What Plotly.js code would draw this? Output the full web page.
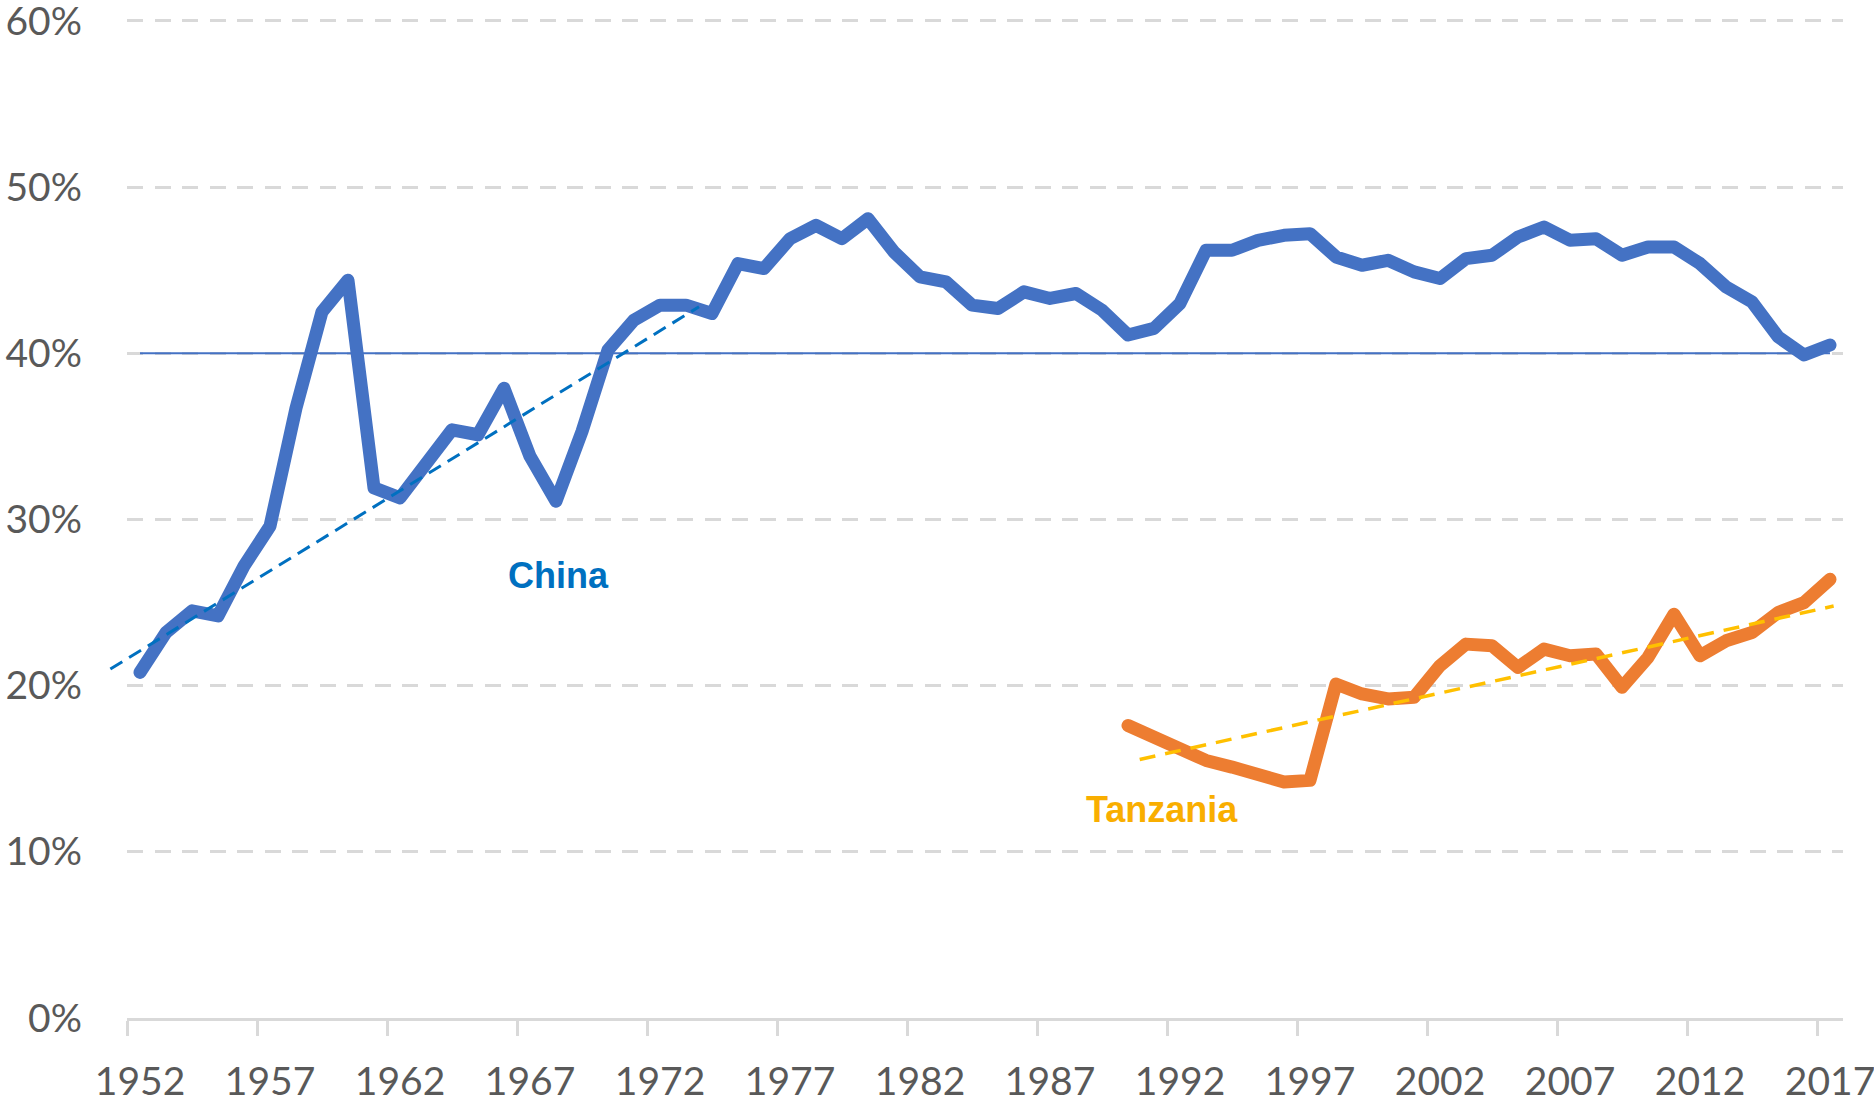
<!DOCTYPE html>
<html>
<head>
<meta charset="utf-8">
<script src="https://cdn.plot.ly/plotly-3.0.1.min.js"></script>
<style>
  html, body { margin: 0; padding: 0; background: #ffffff; }
  #chart { width: 1874px; height: 1102px; }
  #chart path.js-line { stroke-linejoin: round; }
</style>
</head>
<body>
<div id="chart"></div>
<script>
// ---------------- DATA ----------------
const chinaYears = [1952,1953,1954,1955,1956,1957,1958,1959,1960,1961,
  1962,1963,1964,1965,1966,1967,1968,1969,1970,1971,
  1972,1973,1974,1975,1976,1977,1978,1979,1980,1981,
  1982,1983,1984,1985,1986,1987,1988,1989,1990,1991,
  1992,1993,1994,1995,1996,1997,1998,1999,2000,2001,
  2002,2003,2004,2005,2006,2007,2008,2009,2010,2011,
  2012,2013,2014,2015,2016,2017];
const chinaShare = [20.8,23.2,24.5,24.2,27.2,29.6,36.7,42.5,44.4,31.9,
  31.3,33.2,35.4,35.1,37.9,33.8,31.1,35.3,40.2,42.0,
  42.9,42.9,42.4,45.4,45.1,46.9,47.7,46.9,48.1,46.1,
  44.6,44.3,42.9,42.7,43.7,43.3,43.6,42.6,41.1,41.5,
  43.0,46.2,46.2,46.8,47.1,47.2,45.8,45.3,45.6,44.9,
  44.5,45.7,45.9,47.0,47.6,46.8,46.9,45.9,46.4,46.4,
  45.4,44.0,43.1,41.0,39.9,40.5];

const tanzaniaYears = [1990,1991,1992,1993,1994,1995,1996,1997,1998,1999,
  2000,2001,2002,2003,2004,2005,2006,2007,2008,2009,
  2010,2011,2012,2013,2014,2015,2016,2017];
const tanzaniaShare = [17.6,16.9,16.1,15.5,15.1,14.6,14.2,14.3,20.1,19.5,
  19.2,19.3,21.2,22.5,22.4,21.1,22.2,21.8,21.9,19.9,
  21.7,24.3,21.8,22.7,23.2,24.4,25.0,26.4];

// horizontal reference level (China)
const refLevel = 40;

// dashed trend lines (end points)
const chinaTrendYears = [1950.86, 1973.5];
const chinaTrendShare = [21.0, 42.8];
const tanzaniaTrendYears = [1990.45, 2017.14];
const tanzaniaTrendShare = [15.56, 24.79];

// axis ticks
const xTickYears = [1952,1957,1962,1967,1972,1977,1982,1987,1992,1997,2002,2007,2012,2017];
const xTickLabels = ['1952','1957','1962','1967','1972','1977','1982','1987','1992','1997','2002','2007','2012','2017'];
const yTickVals = [0,10,20,30,40,50,60];
const yTickLabels = ['0%','10%','20%','30%','40%','50%','60%'];

// series labels
const labelChina = {text: 'China', year: 1968.1, value: 26.65};
const labelTanzania = {text: 'Tanzania', year: 1991.3, value: 12.56};

// ---------------- LAYOUT CONSTANTS ----------------
const W = 1874, H = 1102;
const mL = 100, mR = 31, mT = 16, mB = 84;
const plotLeftPx = 127;           // where the category axis starts
const xMin = 1951.5, xMax = 2017.5;
const yMin = 0, yMax = 60.3;
const plotW = W - mL - mR;
const d0 = (plotLeftPx - mL) / plotW;
const pxPerYear = (W - mR - plotLeftPx) / (xMax - xMin);
const x2Min = xMin - (plotLeftPx - mL) / pxPerYear;

const tickBoundaries = xTickYears.map(y => y - 0.5);
const refYears = [chinaYears[0], chinaYears[chinaYears.length - 1]];
const refValues = refYears.map(() => refLevel);

const blue = '#4472C4', orange = '#ED7D31';
const gridGray = '#d9d9d9', textGray = '#595959';
const tickFamily = 'Lato, "Liberation Sans", sans-serif';

const traces = [
  {x: refYears, y: refValues, type: 'scatter', mode: 'lines',
   line: {color: blue, width: 2}, hoverinfo: 'skip', showlegend: false},
  {x: chinaYears, y: chinaShare, type: 'scatter', mode: 'lines', name: 'China',
   line: {color: blue, width: 13}, showlegend: false},
  {x: tanzaniaYears, y: tanzaniaShare, type: 'scatter', mode: 'lines', name: 'Tanzania',
   line: {color: orange, width: 13}, showlegend: false},
  {x: tanzaniaTrendYears, y: tanzaniaTrendShare, type: 'scatter', mode: 'lines',
   line: {color: '#FFC000', width: 3.5, dash: '16px,10px'}, hoverinfo: 'skip', showlegend: false},
  {x: chinaTrendYears, y: chinaTrendShare, type: 'scatter', mode: 'lines',
   xaxis: 'x2', yaxis: 'y2',
   line: {color: '#0070C0', width: 3, dash: '14px,8px'}, hoverinfo: 'skip', showlegend: false}
];

const layout = {
  width: W, height: H,
  margin: {l: mL, r: mR, t: mT, b: mB, pad: 0},
  paper_bgcolor: '#ffffff',
  plot_bgcolor: 'rgba(0,0,0,0)',
  showlegend: false,
  font: {family: tickFamily, color: textGray},
  xaxis: {
    domain: [d0, 1], range: [xMin, xMax], anchor: 'y',
    showgrid: false, zeroline: false,
    showline: true, linecolor: gridGray, linewidth: 3,
    tickmode: 'array', tickvals: xTickYears, ticktext: xTickLabels,
    ticks: '', ticklabelstandoff: 27, ticklabeloverflow: 'allow',
    tickfont: {family: tickFamily, size: 39, color: textGray},
    minor: {tickmode: 'array', tickvals: tickBoundaries, ticks: 'outside',
            ticklen: 15, tickwidth: 3, tickcolor: gridGray, showgrid: false}
  },
  yaxis: {
    domain: [0, 1], range: [yMin, yMax], anchor: 'x',
    showgrid: true, gridcolor: gridGray, gridwidth: 3, griddash: '16px,11.5px',
    zeroline: false, showline: false,
    tickmode: 'array', tickvals: yTickVals, ticktext: yTickLabels,
    ticks: '', ticklabelstandoff: 44, ticklabeloverflow: 'allow',
    tickfont: {family: tickFamily, size: 39, color: textGray}
  },
  xaxis2: {
    domain: [0, 1], range: [x2Min, xMax], anchor: 'y2',
    visible: false, showgrid: false, zeroline: false
  },
  yaxis2: {
    domain: [0, 1], range: [yMin, yMax], anchor: 'x2',
    visible: false, showgrid: false, zeroline: false
  },
  annotations: [
    {x: labelChina.year, y: labelChina.value, xref: 'x', yref: 'y', text: labelChina.text,
     showarrow: false, xanchor: 'center', yanchor: 'middle',
     font: {family: '"Liberation Sans", Arial, sans-serif', size: 36, color: '#0070C0', weight: 'bold'}},
    {x: labelTanzania.year, y: labelTanzania.value, xref: 'x', yref: 'y', text: labelTanzania.text,
     showarrow: false, xanchor: 'center', yanchor: 'middle',
     font: {family: '"Liberation Sans", Arial, sans-serif', size: 36, color: '#F9AE00', weight: 'bold'}}
  ]
};

Plotly.newPlot('chart', traces, layout, {staticPlot: true, displayModeBar: false}).then(gd => {
  // round caps on the thick series lines only
  gd.querySelectorAll('path.js-line').forEach(p => {
    const w = parseFloat(p.style.strokeWidth || '0');
    if (w >= 10) p.style.strokeLinecap = 'round';
  });
});
</script>
</body>
</html>
